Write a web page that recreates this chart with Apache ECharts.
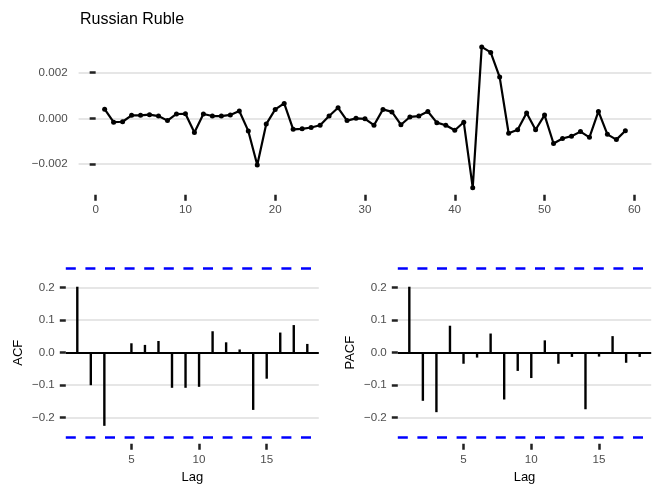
<!DOCTYPE html>
<html>
<head>
<meta charset="utf-8">
<script src="https://cdn.jsdelivr.net/npm/echarts@6/dist/echarts.min.js"></script>
<style>
  html, body { margin: 0; padding: 0; background: #fff; }
  #main { width: 664px; height: 498px; }
</style>
</head>
<body>
<div id="main"></div>
<script>
// series (daily changes), indices 1..59
var rubleIdx = [];
for (var i = 1; i <= 59; i++) rubleIdx.push(i);
var rubleVals = [
  0.00040, -0.00017, -0.00015, 0.00013, 0.00013, 0.00016, 0.00010, -0.00010, 0.00019, 0.00020,
  -0.00062, 0.00019, 0.00010, 0.00010, 0.00015, 0.00032, -0.00055, -0.00204, -0.00025, 0.00039,
  0.00065, -0.00048, -0.00046, -0.00040, -0.00030, 0.00010, 0.00046, -0.00010, 0.00000, -0.00002,
  -0.00030, 0.00039, 0.00028, -0.00028, 0.00006, 0.00010, 0.00030, -0.00019, -0.00030, -0.00052,
  -0.00017, -0.00303, 0.00312, 0.00288, 0.00180, -0.00065, -0.00050, 0.00023, -0.00050, 0.00014,
  -0.00110, -0.00088, -0.00078, -0.00058, -0.00083, 0.00030, -0.00070, -0.00093, -0.00054
];

// ACF / PACF by lag
var lags = [1, 2, 3, 4, 5, 6, 7, 8, 9, 10, 11, 12, 13, 14, 15, 16, 17, 18];
var acfVals = [0.203, -0.100, -0.225, 0.002, 0.029, 0.024, 0.036, -0.108, -0.108, -0.105,
               0.066, 0.032, 0.010, -0.176, -0.080, 0.062, 0.085, 0.027];
var pacfVals = [0.203, -0.148, -0.183, 0.083, -0.034, -0.015, 0.059, -0.144, -0.056, -0.078,
                0.038, -0.034, -0.013, -0.174, -0.012, 0.051, -0.031, -0.013];
var ciBound = 1.96 / Math.sqrt(59);

// tick labels
var topXTicks = [0, 10, 20, 30, 40, 50, 60];
var topYTicks = [-0.002, 0, 0.002];
var lagTicks = [5, 10, 15];
var corTicks = [-0.2, -0.1, 0, 0.1, 0.2];

var chart = echarts.init(document.getElementById('main'));

var labelColor = '#4d4d4d';
var labelSize = 11.6;
var tickStyle = { show: true, length: 6, lineStyle: { color: '#222', width: 2.5 } };
var gridLine = { show: true, lineStyle: { color: '#dedede', width: 1.6 } };

function pairs(xs, ys) {
  return xs.map(function (x, k) { return [x, ys[k]]; });
}

function minus(s) { return s.replace('-', '\u2212'); }

function lagXAxis(gridIndex) {
  return {
    type: 'value', gridIndex: gridIndex, min: 0.15, max: 18.85,
    name: 'Lag', nameLocation: 'middle', nameGap: 27,
    nameTextStyle: { color: '#000', fontSize: 13 },
    axisLine: { show: false, onZero: false },
    axisTick: Object.assign({ customValues: lagTicks }, tickStyle),
    axisLabel: { customValues: lagTicks, color: labelColor, fontSize: labelSize, margin: 10 },
    splitLine: { show: false }
  };
}

function corYAxis(gridIndex, name) {
  return {
    type: 'value', gridIndex: gridIndex, min: -0.28, max: 0.28,
    name: name, nameLocation: 'middle', nameGap: 41,
    nameTextStyle: { color: '#000', fontSize: 13 },
    axisLine: { show: false },
    axisTick: Object.assign({ customValues: corTicks }, tickStyle),
    axisLabel: {
      customValues: corTicks, color: labelColor, fontSize: labelSize, margin: 11,
      formatter: function (v) { return minus(v.toFixed(1)); }
    },
    splitLine: gridLine
  };
}

function corSeries(idx, vals) {
  return {
    type: 'bar', xAxisIndex: idx, yAxisIndex: idx,
    data: pairs(lags, vals), barWidth: 2.4,
    itemStyle: { color: '#000' },
    silent: true,
    markLine: {
      symbol: 'none', silent: true, label: { show: false },
      data: [
        { yAxis: 0, lineStyle: { color: '#000', width: 2, type: 'solid' } },
        { yAxis: ciBound, lineStyle: { color: '#0000ff', width: 2.6, type: [10, 9.6] } },
        { yAxis: -ciBound, lineStyle: { color: '#0000ff', width: 2.6, type: [10, 9.6] } }
      ]
    }
  };
}

var option = {
  animation: false,
  backgroundColor: '#fff',
  title: {
    text: 'Russian Ruble', left: 75, top: 7,
    textStyle: { fontSize: 16, fontWeight: 'normal', color: '#000', fontFamily: 'Liberation Sans' }
  },
  textStyle: { fontFamily: 'Liberation Sans' },
  grid: [
    { left: 78.6, right: 12.6, top: 39.8, height: 155 },
    { left: 65.8, width: 253, top: 261.7, height: 182 },
    { left: 397.8, width: 253.4, top: 261.7, height: 182 }
  ],
  xAxis: [
    {
      type: 'value', gridIndex: 0, min: -1.9, max: 61.9,
      axisLine: { show: false, onZero: false },
      axisTick: Object.assign({ customValues: topXTicks }, tickStyle),
      axisLabel: { customValues: topXTicks, color: labelColor, fontSize: labelSize, margin: 9 },
      splitLine: { show: false }
    },
    lagXAxis(1),
    lagXAxis(2)
  ],
  yAxis: [
    {
      type: 'value', gridIndex: 0, min: -0.00334, max: 0.00343,
      axisLine: { show: false },
      axisTick: Object.assign({ customValues: topYTicks }, tickStyle),
      axisLabel: {
        customValues: topYTicks, color: labelColor, fontSize: labelSize, margin: 11,
        formatter: function (v) { return minus(v.toFixed(3)); }
      },
      splitLine: gridLine
    },
    corYAxis(1, 'ACF'),
    corYAxis(2, 'PACF')
  ],
  series: [
    {
      type: 'line', xAxisIndex: 0, yAxisIndex: 0,
      data: pairs(rubleIdx, rubleVals),
      symbol: 'circle', symbolSize: 5,
      lineStyle: { color: '#000', width: 2.2 },
      itemStyle: { color: '#000' },
      silent: true
    },
    corSeries(1, acfVals),
    corSeries(2, pacfVals)
  ]
};

chart.setOption(option);
</script>
</body>
</html>
